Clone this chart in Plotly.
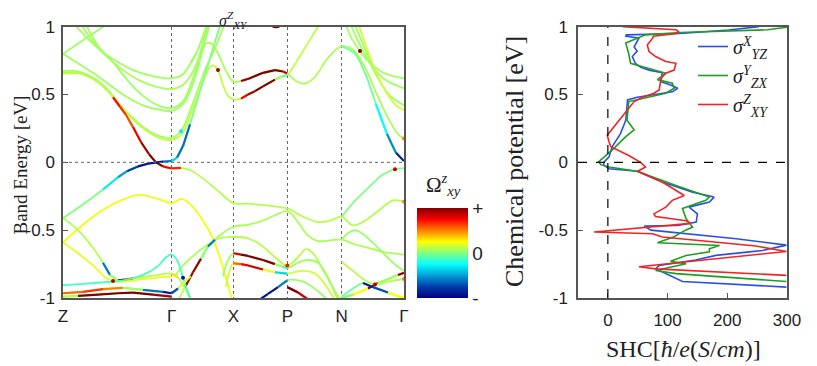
import plotly.graph_objects as go

SERIF = "Liberation Serif, DejaVu Serif, serif"
SANS = "Liberation Sans, Arial, sans-serif"

# ---- k-path (distance along Z-Γ-X-P-N-Γ) ----
K_TICKS = [0, 108.7, 170.3, 224.3, 278.7, 341]
K_LABELS = ["Z", "Γ", "X", "P", "N", "Γ"]
E_TICKS = [-1, -0.5, 0, 0.5, 1]
E_LABELS = ["-1", "-0.5", "0", "0.5", "1"]
SHC_TICKS = [0, 100, 200, 300]

# ---- bands: (k, E[eV]) or (k, E, Ω) with Ω in [-1, 1] (Berry curvature, normalised) ----
c01 = [(0, 0.80), (20, 0.90), (40, 1.0), (55, 1.08)]
c02 = [(10, 1.03), (25, 0.91), (40, 0.81), (55, 0.74), (70, 0.68), (85, 0.645), (98, 0.625), (108.7, 0.62),
       (120, 0.65), (128, 0.735, -0.9), (133, 0.80, 1.0), (138, 0.89), (145, 1.04)]
c03 = [(17, 1.03), (30, 0.89), (45, 0.77), (60, 0.68), (75, 0.61), (92, 0.56), (108.7, 0.54), (120, 0.57),
       (130, 0.67), (138, 0.81), (144, 0.88), (150, 0.865), (157, 0.77), (164, 0.66), (170.3, 0.595),
       (178, 0.60, 0.85), (185, 0.615, 1.0), (200, 0.66, 1.0), (212, 0.68, 1.0), (220, 0.67, 1.0),
       (224.3, 0.655, 0.7), (233, 0.60), (242, 0.58), (252, 0.63), (265, 0.77), (278.7, 0.855), (290, 0.83),
       (302, 0.70), (314, 0.50), (327, 0.30), (336, 0.20), (341, 0.175, 0.5)]
c04 = [(22, 1.03), (35, 0.86), (50, 0.74), (65, 0.60), (80, 0.49), (95, 0.42), (108.7, 0.40), (120, 0.45),
       (130, 0.62), (137, 0.80), (142, 0.94), (147, 1.06)]
c05 = [(0, 0.80), (15, 0.73), (30, 0.66), (45, 0.58), (60, 0.50), (80, 0.42), (95, 0.39), (108.7, 0.38),
       (120, 0.43), (130, 0.58), (138, 0.78), (143, 0.92), (148, 1.05)]
c06 = [(0, 0.675), (15, 0.67), (30, 0.625), (45, 0.535), (57, 0.425), (70, 0.325), (85, 0.235), (98, 0.19),
       (108.7, 0.18), (118, 0.23, -0.3), (128, 0.40), (136, 0.56), (142, 0.68), (147, 0.76), (152, 0.84),
       (158, 0.95), (163, 1.05)]
c07 = [(0, 0.665), (15, 0.66), (30, 0.615), (45, 0.525), (57, 0.415), (70, 0.315), (85, 0.225), (98, 0.175),
       (108.7, 0.165), (118, 0.20), (128, 0.36), (138, 0.55), (146, 0.695), (150, 0.715), (155, 0.68, 0.9),
       (160, 0.57), (165, 0.49), (170.3, 0.465), (178, 0.47, 0.7), (185, 0.50, 0.85), (192, 0.525, 1.0),
       (200, 0.56, 1.0), (212, 0.61, 1.0), (220, 0.635, -0.9), (224.3, 0.645, 0.7), (235, 0.76), (245, 0.88),
       (255, 1.0), (262, 1.08)]
c08 = [(0, 0.655), (20, 0.65), (38, 0.575), (50, 0.48, 0.6), (57, 0.41, 0.85), (63, 0.35, 0.5), (70, 0.26, 0.7),
       (78, 0.15, 0.85), (86, 0.06, 1.0), (93, 0.0, 1.0), (100, -0.03, 1.0), (108.7, -0.045, 0.5),
       (118, -0.04, 0.85), (128, -0.06), (140, -0.12), (155, -0.21), (170.3, -0.30), (185, -0.305),
       (200, -0.315), (212, -0.325), (224.3, -0.34), (240, -0.40), (255, -0.44), (267, -0.43), (278.7, -0.40),
       (285, -0.44), (290, -0.465), (300, -0.44), (315, -0.36), (330, -0.28), (341, -0.29, 0.5)]
c09 = [(0, -0.41), (20, -0.31), (40, -0.20, -0.2), (55, -0.11, -0.4), (64, -0.065, -0.6), (75, -0.03, -0.9),
       (85, -0.01, -0.95), (100, 0.005, -0.9), (108.7, 0.01, -0.3), (114, 0.035, -0.4), (120, 0.12, -0.85),
       (127, 0.28, -0.4), (134, 0.45), (140, 0.60), (145, 0.72), (150, 0.84), (155, 0.96), (159, 1.05)]
c10 = [(278.7, 0.855), (292, 0.80), (302, 0.66), (313, 0.43, -0.2), (324, 0.21, -0.3), (333, 0.07, -0.8),
       (341, 0.01, -0.9)]
c11 = [(282, 1.03), (289, 0.91), (297, 0.82, 1.0), (306, 0.74), (318, 0.67), (330, 0.635), (341, 0.62)]
c12 = [(287, 1.03), (296, 0.88), (308, 0.72), (322, 0.61), (341, 0.545)]
c13 = [(291, 1.03), (300, 0.87), (312, 0.66), (326, 0.50), (341, 0.42)]
c14 = [(295, 1.03), (302, 0.88), (312, 0.68), (323, 0.52), (333, 0.42), (341, 0.385)]
c15 = [(203, 1.03, 1.0), (213, 0.995, 1.0), (223, 1.03, 1.0)]

v01 = [(0, -0.59), (20, -0.46), (40, -0.35), (60, -0.275), (77, -0.24), (95, -0.27), (108.7, -0.30),
       (119, -0.27), (130, -0.33), (140, -0.43), (148, -0.53), (155, -0.66), (161, -0.80), (166, -0.93),
       (170, -1.04)]
v02 = [(278.7, -0.40), (290, -0.30), (305, -0.19), (320, -0.09), (332, -0.05, 0.85), (341, -0.045)]
v03 = [(112, -0.84), (120, -0.76), (135, -0.66), (150, -0.58), (160, -0.52), (170.3, -0.475), (185, -0.46),
       (200, -0.43), (212, -0.39), (224.3, -0.36), (235, -0.44), (245, -0.54), (255, -0.58), (267, -0.575),
       (278.7, -0.57), (290, -0.60), (305, -0.63), (320, -0.66), (341, -0.68)]
v04 = [(278.7, -0.57), (285, -0.52), (292, -0.50), (300, -0.53), (315, -0.63), (330, -0.74), (341, -0.80)]
v05 = [(115, -1.02), (122, -0.92, 0.85), (130, -0.81, 1.0), (138, -0.71, 0.9), (145, -0.62, -0.9),
       (152, -0.57, -0.3), (160, -0.555), (170.3, -0.55), (185, -0.56), (200, -0.62), (212, -0.70),
       (224.3, -0.76, 0.7), (235, -0.70), (243, -0.64), (250, -0.67), (262, -0.82), (272, -0.95), (278, -1.02)]
v06 = [(160, -0.84), (165, -0.72), (170.3, -0.67, 0.6), (178, -0.68, 1.0), (185, -0.69, 1.0), (200, -0.72, 1.0),
       (212, -0.75, 1.0), (220, -0.77, -0.9), (224.3, -0.78, 0.6), (235, -0.74), (245, -0.72), (255, -0.74),
       (265, -0.85), (275, -1.02)]
v07 = [(163, -0.92), (170.3, -0.745, 0.4), (178, -0.75, 0.7), (185, -0.76, 0.8), (200, -0.79, 0.85),
       (212, -0.81, -0.4), (224.3, -0.82, -0.3), (240, -0.80), (252, -0.82), (262, -0.90), (272, -1.02)]
v08 = [(193, -1.03, -0.9), (205, -0.97, -0.9), (215, -0.92, -0.9), (224.3, -0.87, -0.3), (240, -0.88),
       (255, -0.95), (265, -1.02)]
v09 = [(224.3, -0.92, 1.0), (235, -0.96, 1.0), (245, -1.01, 0.6)]
v11 = [(0, -0.41), (15, -0.50), (30, -0.63), (40, -0.74, -0.3), (47, -0.83, -0.9), (55, -0.87, 1.0),
       (62, -0.865, 1.0), (70, -0.855, 0.6), (90, -0.835), (108.7, -0.82, -0.3), (115, -0.85, 0.9),
       (122, -0.93), (128, -1.02)]
v12 = [(0, -0.59), (15, -0.67), (30, -0.76), (42, -0.845), (50, -0.875, 0.9), (60, -0.88), (80, -0.86),
       (95, -0.85), (108.7, -0.84)]
v13 = [(0, -0.905), (30, -0.89), (60, -0.87), (80, -0.83), (95, -0.765), (103, -0.70), (108.7, -0.68),
       (114, -0.72), (120, -0.85, -0.9), (126, -0.98), (130, -1.05)]
v14 = [(0, -0.965, 0.4), (20, -0.955, 0.7), (40, -0.935, 0.6), (60, -0.925, 0.4), (80, -0.94, -0.3),
       (100, -0.955, -0.9), (108.7, -0.965, -0.9), (115, -0.93, -0.5), (122, -0.88), (128, -0.84)]
v15 = [(0, -0.99, -0.8), (15, -0.985, 1.0), (35, -0.975, 1.0), (55, -0.965, 1.0), (70, -0.96, 1.0),
       (90, -0.975, 1.0), (108.7, -0.99, 0.8)]
v16 = [(278.7, -1.0, 0.5), (290, -0.975, -0.5), (305, -0.93, 1.0), (315, -0.89, 1.0), (325, -0.86, -0.9),
       (335, -0.83, 1.0), (341, -0.815, 0.9)]
v17 = [(278.7, -0.99), (290, -0.93), (300, -0.89, -0.9), (310, -0.92, -0.9), (325, -0.96, -0.5),
       (341, -1.0, 1.0)]
v18 = [(278.7, -0.735), (290, -0.80), (300, -0.86), (312, -0.90, 0.9), (325, -0.88), (341, -0.86, 0.5)]

# neutral Ω for each band (slight tint differences)
BANDS = [
    (c01, 0.05), (c02, 0.06), (c03, 0.08), (c04, 0.06), (c05, 0.06), (c06, 0.07), (c07, 0.12),
    (c08, 0.1), (c09, 0.0), (c10, -0.05), (c11, 0.06), (c12, 0.06), (c13, 0.06), (c14, 0.15), (c15, 1.0),
    (v01, 0.22), (v02, 0.0), (v03, 0.08), (v04, 0.05), (v05, 0.1), (v06, 0.06), (v07, 0.15), (v08, 0.05),
    (v09, 1.0), (v11, 0.1), (v12, 0.2), (v13, -0.12), (v14, 0.15), (v15, 0.05), (v16, 0.15), (v17, -0.05),
    (v18, 0.1),
]

# ---- spin Hall conductivity vs chemical potential ----
e_yz = [1.0, 0.976, 0.95, 0.94, 0.93, 0.915, 0.85, 0.82, 0.78, 0.73, 0.70, 0.68, 0.66, 0.595, 0.57, 0.546,
        0.52, 0.50, 0.48, 0.46, 0.31, 0.21, 0.115, 0.04, 0.0, -0.02, -0.047, -0.066, -0.145, -0.22, -0.256,
        -0.293, -0.33, -0.38, -0.44, -0.465, -0.47, -0.50, -0.526, -0.563, -0.61, -0.65, -0.66, -0.686, -0.72,
        -0.76, -0.785, -0.82, -0.878, -0.92]
shc_yz = [253, 202, 121, 31, 30, 52, 44, 49, 41, 46, 55, 69, 91, 89, 105, 117,
          108, 75, 49, 33, 30, 21, 7, 2, -7, -7, 2, 49, 91, 142, 178,
          170, 136, 150, 148, 117, 61, 72, 131, 215, 299, 259, 237, 181, 147,
          86, 80, 97, 125, 299]
e_zx = [0.996, 0.977, 0.957, 0.94, 0.88, 0.80, 0.73, 0.706, 0.68, 0.657, 0.61, 0.583, 0.546, 0.51, 0.47,
        0.448, 0.31, 0.24, 0.19, 0.09, 0.005, -0.017, -0.034, -0.066, -0.17, -0.256, -0.28, -0.34, -0.416,
        -0.477, -0.50, -0.55, -0.593, -0.613, -0.637, -0.66, -0.686, -0.73, -0.748, -0.797, -0.82, -0.878]
shc_zx = [300, 267, 121, 63, 30, 35, 38, 58, 80, 97, 83, 108, 111, 97, 58,
          35, 32, 44, 30, 7, -15, -12, 2, 49, 114, 170, 164, 125, 131,
          142, 130, 110, 83, 187, 170, 170, 131, 105, 131, 80, 114, 299]
e_xy = [1.0, 0.977, 0.965, 0.95, 0.93, 0.915, 0.866, 0.817, 0.78, 0.743, 0.73, 0.68, 0.657, 0.62, 0.534,
        0.51, 0.48, 0.448, 0.31, 0.20, 0.15, 0.115, 0.05, 0.0, -0.034, -0.066, -0.145, -0.244, -0.28, -0.33,
        -0.38, -0.40, -0.43, -0.45, -0.514, -0.526, -0.55, -0.617, -0.657, -0.77, -0.785, -0.833]
shc_xy = [25, 114, 118, 115, 76, 75, 66, 69, 80, 97, 114, 111, 97, 89, 86,
          77, 58, 44, 19, -1, 2, 5, 35, 55, 63, 50, 91, 128, 108, 97,
          77, 80, 131, 139, -23, 75, 91, 248, 299, 52, 80, 299]

JET = [[0, "rgb(0,0,131)"], [0.125, "rgb(0,60,170)"], [0.375, "rgb(5,255,255)"],
       [0.625, "rgb(255,255,0)"], [0.875, "rgb(250,0,0)"], [1, "rgb(128,0,0)"]]

# the page body has an 8px margin, so the figure is laid out 8px in from the window corner
W, H, OFF = 809, 358, 8


def px(x):
    return (x - OFF) / W


def py(y):
    return 1 - (y - OFF) / H


def jet(w):
    v = min(max((w + 1) / 2, 0), 1)
    for (a, ca), (b, cb) in zip(JET[:-1], JET[1:]):
        if a <= v <= b:
            t = (v - a) / (b - a)
            pa = [int(x) for x in ca[4:-1].split(",")]
            pb = [int(x) for x in cb[4:-1].split(",")]
            return "rgb(%d,%d,%d)" % tuple(round(p + (q - p) * t) for p, q in zip(pa, pb))
    return JET[-1][1]


fig = go.Figure()

spot_k, spot_e, spot_w = [], [], []
for pts, base in BANDS:
    ks = [p[0] for p in pts]
    es = [p[1] for p in pts]
    fig.add_trace(go.Scatter(x=ks, y=es, mode="lines", line=dict(color=jet(base), width=1.8, shape="spline"),
                             showlegend=False, hoverinfo="skip", xaxis="x", yaxis="y"))
    has = [len(p) > 2 for p in pts]
    for i in range(len(pts) - 1):
        if has[i] and has[i + 1]:
            w = (pts[i][2] + pts[i + 1][2]) / 2
            fig.add_trace(go.Scatter(x=[ks[i], ks[i + 1]], y=[es[i], es[i + 1]], mode="lines",
                                     line=dict(color=jet(w), width=2.2), showlegend=False,
                                     hoverinfo="skip", xaxis="x", yaxis="y"))
    for i, p in enumerate(pts):
        if has[i] and not (i > 0 and has[i - 1]) and not (i < len(pts) - 1 and has[i + 1]):
            spot_k.append(p[0])
            spot_e.append(p[1])
            spot_w.append(p[2])

fig.add_trace(go.Scatter(
    x=spot_k, y=spot_e, mode="markers", showlegend=False, hoverinfo="skip", xaxis="x", yaxis="y",
    marker=dict(size=4, color=spot_w, cmin=-1, cmax=1, colorscale=JET, showscale=True,
                colorbar=dict(thickness=51, thicknessmode="pixels", len=90, lenmode="pixels",
                              x=px(417), xanchor="left", xpad=0, y=py(253), yanchor="middle",
                              ypad=0, outlinewidth=0, tickvals=[-1, 0, 1], ticktext=["-", "0", "+"],
                              ticks="", tickfont=dict(family=SANS, size=19, color="#222"))),
))

# SHC curves
for e, s, col, name in [
    (e_yz, shc_yz, "#2b50e8", "<i>σ</i><sup><i>X</i></sup><sub><i>YZ</i></sub>"),
    (e_zx, shc_zx, "#1f9e1f", "<i>σ</i><sup><i>Y</i></sup><sub><i>ZX</i></sub>"),
    (e_xy, shc_xy, "#f02424", "<i>σ</i><sup><i>Z</i></sup><sub><i>XY</i></sub>"),
]:
    fig.add_trace(go.Scatter(x=s, y=e, mode="lines", name=name, line=dict(color=col, width=1.6),
                             xaxis="x2", yaxis="y2", hoverinfo="skip"))

axis_common = dict(showline=True, mirror=True, linecolor="#555", linewidth=1.5, ticks="inside",
                   ticklen=5, tickcolor="#555", zeroline=False, automargin=False,
                   tickfont=dict(family=SANS, size=17, color="#222"))


def label(text, x, y, size, angle=0):
    return dict(text=text, x=px(x), y=py(y), xref="paper", yref="paper", xanchor="center",
                yanchor="middle", textangle=angle, showarrow=False,
                font=dict(family=SERIF, size=size, color="#222"))


fig.update_layout(
    width=W, height=H, margin=dict(l=0, r=0, t=0, b=0, autoexpand=False),
    paper_bgcolor="white", plot_bgcolor="white",
    xaxis=dict(domain=[px(63), px(404)], range=[0, 341], tickvals=K_TICKS, ticktext=K_LABELS,
               showgrid=True, gridcolor="#666", griddash="dot", gridwidth=1, ticklabelstandoff=2,
               anchor="y", **{**axis_common, "ticks": ""}),
    yaxis=dict(domain=[py(298), py(26.7)], range=[-1, 1], tickvals=E_TICKS, ticktext=E_LABELS,
               showgrid=False, anchor="x", ticklabelstandoff=3, **axis_common),
    xaxis2=dict(domain=[px(578), px(787)], range=[-50, 300], tickvals=SHC_TICKS, showgrid=False,
                anchor="y2", ticklabelstandoff=6, **axis_common),
    yaxis2=dict(domain=[py(298), py(26.7)], range=[-1, 1], tickvals=E_TICKS, ticktext=E_LABELS,
                showgrid=False, anchor="x2", ticklabelstandoff=5, **axis_common),
    legend=dict(x=px(693), y=py(27), xanchor="left", yanchor="top", bgcolor="rgba(0,0,0,0)",
                font=dict(family=SERIF, size=20, color="#222"), tracegroupgap=0, itemwidth=30),
    shapes=[
        dict(type="line", xref="x", yref="y", x0=0, x1=341, y0=0, y1=0,
             line=dict(color="#666", width=1, dash="dot")),
        dict(type="line", xref="x2", yref="y2", x0=-50, x1=300, y0=0, y1=0,
             line=dict(color="black", width=1.2, dash="dash")),
        dict(type="line", xref="x2", yref="y2", x0=0, x1=0, y0=-1, y1=1,
             line=dict(color="black", width=1.2, dash="dash")),
    ],
    annotations=[
        label("<i>σ</i><sup><i>Z</i></sup><sub><i>XY</i></sub>", 233.5, 20, 16),
        label("Band Energy [eV]", 19.5, 165, 19, -90),
        label("Ω<sup><i>z</i></sup><sub><i>xy</i></sub>", 443, 185, 21),
        label("Chemical potential [eV]", 514, 162, 26, -90),
        label("SHC[<i>ħ</i>/<i>e</i>(<i>S</i>/<i>cm</i>)]", 683, 349, 24),
    ],
)

fig.write_html("out.html")
